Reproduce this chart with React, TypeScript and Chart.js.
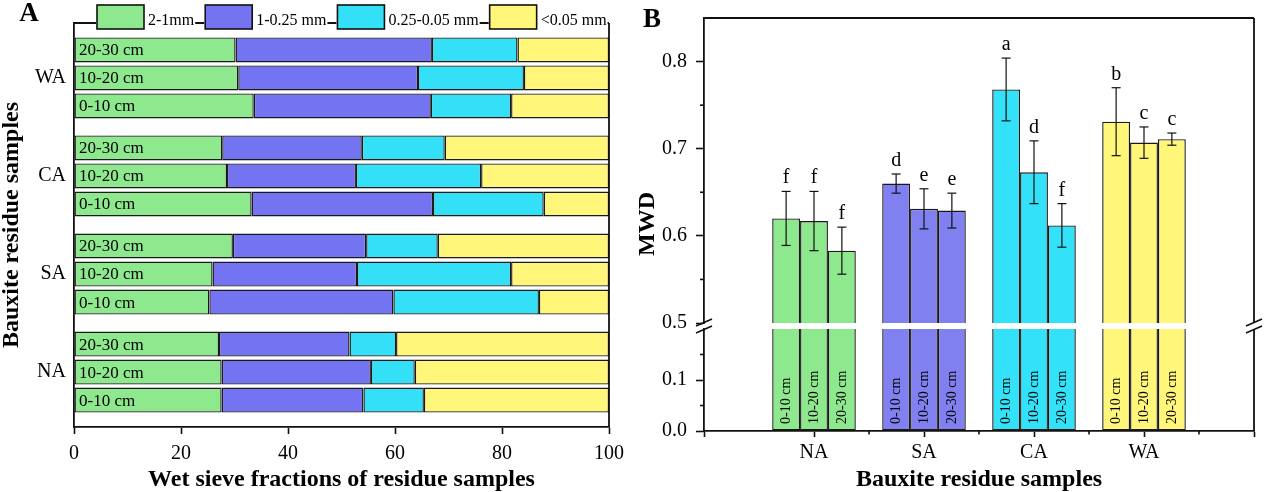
import React, { useEffect, useRef } from 'react';
import { Chart, registerables } from 'chart.js';

Chart.register(...registerables);

const FONT = "'Liberation Serif', 'Times New Roman', serif";
Chart.defaults.font.family = FONT;
Chart.defaults.color = '#000';

// ---------- Panel A data ----------
const GROUPS_A = ['WA', 'CA', 'SA', 'NA'];
const DEPTHS_A = ['20-30 cm', '10-20 cm', '0-10 cm'];
const FRACTIONS = ['2-1mm', '1-0.25 mm', '0.25-0.05 mm', '<0.05 mm'];
// per group (WA, CA, SA, NA): values for [20-30, 10-20, 0-10] cm
const F_2_1 = [[30.2, 30.7, 33.6], [27.7, 28.6, 33.2], [29.7, 25.9, 25.3], [27.1, 27.6, 27.6]];
const F_1_025 = [[36.7, 33.6, 33.1], [26.1, 24.1, 33.9], [24.9, 27.0, 34.4], [24.4, 27.9, 26.5]];
const F_025_005 = [[16.0, 19.8, 15.0], [15.5, 23.4, 20.7], [13.4, 28.8, 27.2], [8.7, 8.2, 11.3]];
const F_LT_005 = [[17.1, 15.9, 18.3], [30.7, 23.9, 12.2], [32.0, 18.3, 13.1], [39.8, 36.3, 34.6]];
const X_TICKS_A = [0, 20, 40, 60, 80, 100];
const COLORS_A = ['#8EE88E', '#7474F2', '#33E0F8', '#FFF67A'];

// ---------- Panel B data ----------
const CATS_B = ['NA', 'SA', 'CA', 'WA'];
const DEPTHS_B = ['0-10 cm', '10-20 cm', '20-30 cm'];
const MWD_0_10 = [0.620, 0.660, 0.768, 0.731];
const MWD_10_20 = [0.617, 0.631, 0.673, 0.707];
const MWD_20_30 = [0.583, 0.629, 0.612, 0.711];
const ERR_0_10 = [0.031, 0.011, 0.036, 0.039];
const ERR_10_20 = [0.034, 0.023, 0.036, 0.018];
const ERR_20_30 = [0.027, 0.020, 0.025, 0.007];
const LET_0_10 = ['f', 'd', 'a', 'b'];
const LET_10_20 = ['f', 'e', 'd', 'c'];
const LET_20_30 = ['f', 'e', 'f', 'c'];
const UPPER_TICKS = [0.5, 0.6, 0.7, 0.8];
const UPPER_MINOR = [0.55, 0.65, 0.75];
const LOWER_TICKS = [0, 0.1];
const LOWER_MINOR = [0.05, 0.15];
const X_MINOR_B = [1.5, 2.5, 3.5, 4.5];
const COLORS_B = ['#8EE88E', '#8080F0', '#33E2F8', '#FFF67A'];

const FRACS = [F_2_1, F_1_025, F_025_005, F_LT_005];
const MWD = [MWD_0_10, MWD_10_20, MWD_20_30];
const ERR = [ERR_0_10, ERR_10_20, ERR_20_30];
const LETTERS = [LET_0_10, LET_10_20, LET_20_30];
const X_LABELS_B = ['', ...CATS_B, ''];

const INK = '#111';
const FRAME_W = 1.8;

function seg(ctx: CanvasRenderingContext2D, x1: number, y1: number, x2: number, y2: number, w = FRAME_W) {
  ctx.save();
  ctx.beginPath();
  ctx.moveTo(x1, y1);
  ctx.lineTo(x2, y2);
  ctx.lineWidth = w;
  ctx.strokeStyle = INK;
  ctx.stroke();
  ctx.restore();
}

function configA(): any {
  const datasets: any[] = [];
  DEPTHS_A.forEach((depth, di) => {
    FRACTIONS.forEach((fr, fi) => {
      datasets.push({
        label: fr,
        stack: depth,
        data: GROUPS_A.map((_, gi) => ({ x: FRACS[fi][gi][di], y: gi })),
        backgroundColor: COLORS_A[fi],
        borderColor: '#1a1a1a',
        borderWidth: 1.4,
        borderSkipped: false,
        barPercentage: 0.893,
        categoryPercentage: 0.857,
      });
    });
  });
  const plugin = {
    id: 'panelA',
    afterDraw(chart: any) {
      const ctx: CanvasRenderingContext2D = chart.ctx;
      const { left, right, top, bottom } = chart.chartArea;
      seg(ctx, left, top, right, top);
      seg(ctx, right, top, right, bottom);
      // depth labels on bars
      ctx.save();
      ctx.font = `17px ${FONT}`;
      ctx.fillStyle = '#000';
      ctx.textBaseline = 'middle';
      ctx.textAlign = 'left';
      DEPTHS_A.forEach((depth, di) => {
        const meta = chart.getDatasetMeta(di * FRACTIONS.length);
        meta.data.forEach((el: any) => {
          ctx.fillText(depth, left + 5, el.y + 1);
        });
      });
      ctx.restore();
      // legend sitting on the top frame line
      ctx.save();
      ctx.font = `16px ${FONT}`;
      let x = left + 23;
      FRACTIONS.forEach((label, i) => {
        const tw = ctx.measureText(label).width;
        ctx.fillStyle = '#fff';
        ctx.fillRect(x - 1, top - 4, 47 + 4 + tw + 2, 8);
        ctx.fillStyle = COLORS_A[i];
        ctx.fillRect(x, top - 18, 47, 24);
        ctx.lineWidth = 1.6;
        ctx.strokeStyle = INK;
        ctx.strokeRect(x, top - 18, 47, 24);
        ctx.fillStyle = '#000';
        ctx.textBaseline = 'alphabetic';
        ctx.textAlign = 'left';
        ctx.fillText(label, x + 47 + 4, top + 2);
        x += 47 + 4 + tw + 11;
      });
      ctx.restore();
      // panel letter
      ctx.save();
      ctx.font = `bold 27px ${FONT}`;
      ctx.fillStyle = '#000';
      ctx.textAlign = 'center';
      ctx.textBaseline = 'middle';
      ctx.fillText('A', 29, 14);
      ctx.restore();
    },
  };
  return {
    type: 'bar',
    data: { datasets },
    plugins: [plugin],
    options: {
      animation: false,
      responsive: false,
      indexAxis: 'y',
      layout: { padding: { left: 0, right: 21, top: 23, bottom: 0 } },
      plugins: { legend: { display: false }, tooltip: { enabled: false } },
      scales: {
        x: {
          type: 'linear',
          min: 0,
          max: 100,
          stacked: true,
          afterBuildTicks: (s: any) => { s.ticks = X_TICKS_A.map((v) => ({ value: v })); },
          ticks: { font: { size: 20 }, color: '#000', padding: 8, maxRotation: 0 },
          grid: { drawOnChartArea: false, tickLength: 7, tickWidth: 1.6, tickColor: INK },
          border: { display: true, color: INK, width: FRAME_W },
          title: {
            display: true,
            text: 'Wet sieve fractions of residue samples',
            font: { size: 24, weight: 'bold', lineHeight: 1 },
            color: '#000',
            padding: { top: 3, bottom: 0 },
          },
          afterFit: (s: any) => { s.height = 65; s.paddingLeft = 0; s.paddingRight = 0; },
        },
        y: {
          type: 'linear',
          reverse: true,
          min: -0.56,
          max: 3.56,
          offset: false,
          afterBuildTicks: (s: any) => { s.ticks = GROUPS_A.map((_, i) => ({ value: i })); },
          ticks: { callback: (v: any) => GROUPS_A[v] ?? '', font: { size: 20 }, color: '#000', padding: 8 },
          grid: { display: true, offset: false, drawOnChartArea: false, drawTicks: false },
          border: { display: true, color: INK, width: FRAME_W },
          title: {
            display: true,
            text: 'Bauxite residue samples',
            font: { size: 24, weight: 'bold', lineHeight: 1 },
            color: '#000',
            padding: { top: 0, bottom: 0 },
          },
          afterFit: (s: any) => { s.width = 74; s.paddingTop = 0; s.paddingBottom = 0; },
        },
      },
    },
  };
}

function datasetsB(): any[] {
  return DEPTHS_B.map((depth, di) => ({
    label: depth,
    data: [null, ...MWD[di], null],
    backgroundColor: ['#fff', ...COLORS_B, '#fff'],
    borderColor: '#1a1a1a',
    borderWidth: 1.4,
    borderSkipped: false,
    barPercentage: 1,
    categoryPercentage: 0.76,
    clip: 0,
  }));
}

function yAxisB(min: number, max: number, major: number[]): any {
  return {
    type: 'linear',
    min,
    max,
    afterBuildTicks: (s: any) => { s.ticks = major.map((v) => ({ value: v })); },
    ticks: { callback: (v: any) => Number(v).toFixed(1), font: { size: 20 }, color: '#000', padding: 9 },
    grid: { drawOnChartArea: false, tickLength: 8, tickWidth: 1.6, tickColor: INK },
    border: { display: true, color: INK, width: FRAME_W },
    afterFit: (s: any) => { s.width = 74; s.paddingTop = 0; s.paddingBottom = 0; },
  };
}

function configBUpper(): any {
  const plugin = {
    id: 'panelBUpper',
    afterDraw(chart: any) {
      const ctx: CanvasRenderingContext2D = chart.ctx;
      const { left, right, top, bottom } = chart.chartArea;
      const ys = chart.scales.y;
      seg(ctx, left, top, right, top);
      seg(ctx, right, top, right, bottom);
      UPPER_MINOR.forEach((v) => {
        const y = ys.getPixelForValue(v);
        seg(ctx, left - 4, y, left, y, 1.6);
      });
      // error bars and letters
      ctx.save();
      ctx.font = `20px ${FONT}`;
      ctx.fillStyle = '#000';
      ctx.textAlign = 'center';
      ctx.textBaseline = 'alphabetic';
      DEPTHS_B.forEach((_, di) => {
        const meta = chart.getDatasetMeta(di);
        meta.data.forEach((el: any, idx: number) => {
          const gi = idx - 1;
          if (gi < 0 || gi >= CATS_B.length) return;
          const v = MWD[di][gi];
          const e = ERR[di][gi];
          const yT = ys.getPixelForValue(v + e);
          const yB = ys.getPixelForValue(v - e);
          seg(ctx, el.x, yT, el.x, yB, 1.2);
          seg(ctx, el.x - 4.5, yT, el.x + 4.5, yT, 1.2);
          seg(ctx, el.x - 4.5, yB, el.x + 4.5, yB, 1.2);
          ctx.fillText(LETTERS[di][gi], el.x, yT - 8);
        });
      });
      ctx.restore();
      ctx.save();
      ctx.font = `bold 27px ${FONT}`;
      ctx.fillStyle = '#000';
      ctx.textAlign = 'center';
      ctx.textBaseline = 'middle';
      ctx.fillText('B', 22, 20);
      ctx.font = `bold 24px ${FONT}`;
      ctx.translate(18, 224);
      ctx.rotate(-Math.PI / 2);
      ctx.fillText('MWD', 0, 0);
      ctx.restore();
    },
  };
  return {
    type: 'bar',
    data: { labels: X_LABELS_B, datasets: datasetsB() },
    plugins: [plugin],
    options: {
      animation: false,
      responsive: false,
      layout: { padding: { left: 0, right: 12, top: 18, bottom: 17 } },
      plugins: { legend: { display: false }, tooltip: { enabled: false } },
      scales: {
        x: { type: 'category', display: false, offset: false, grid: { offset: false } },
        y: yAxisB(0.5, 0.85, UPPER_TICKS),
      },
    },
  };
}

function configBLower(): any {
  const plugin = {
    id: 'panelBLower',
    afterDraw(chart: any) {
      const ctx: CanvasRenderingContext2D = chart.ctx;
      const { left, right, top, bottom } = chart.chartArea;
      const ys = chart.scales.y;
      const xs = chart.scales.x;
      seg(ctx, right, top, right, bottom);
      LOWER_MINOR.forEach((v) => {
        const y = ys.getPixelForValue(v);
        seg(ctx, left - 4, y, left, y, 1.6);
      });
      X_MINOR_B.forEach((v) => {
        const x = xs.getPixelForValue(v);
        seg(ctx, x, bottom, x, bottom + 3.5, 1.6);
      });
      // axis break marks
      const by = top - 3;
      [left, right].forEach((bx) => {
        [-3.5, 3.5].forEach((dy) => {
          seg(ctx, bx - 8, by + dy + 3.5, bx + 8, by + dy - 3.5, 1.6);
        });
      });
      // depth labels inside bars
      ctx.save();
      ctx.font = `14px ${FONT}`;
      ctx.fillStyle = '#000';
      ctx.textAlign = 'left';
      ctx.textBaseline = 'middle';
      DEPTHS_B.forEach((depth, di) => {
        const meta = chart.getDatasetMeta(di);
        meta.data.forEach((el: any, idx: number) => {
          if (idx < 1 || idx > CATS_B.length) return;
          ctx.save();
          ctx.translate(el.x, bottom - 7);
          ctx.rotate(-Math.PI / 2);
          ctx.fillText(depth, 0, 0);
          ctx.restore();
        });
      });
      ctx.restore();
    },
  };
  return {
    type: 'bar',
    data: { labels: X_LABELS_B, datasets: datasetsB() },
    plugins: [plugin],
    options: {
      animation: false,
      responsive: false,
      layout: { padding: { left: 0, right: 12, top: 29, bottom: 0 } },
      plugins: { legend: { display: false }, tooltip: { enabled: false } },
      scales: {
        x: {
          type: 'category',
          offset: false,
          ticks: { autoSkip: false, maxRotation: 0, font: { size: 20 }, color: '#000', padding: 4 },
          grid: { offset: false, drawOnChartArea: false, tickLength: 6, tickWidth: 1.6, tickColor: INK },
          border: { display: true, color: INK, width: FRAME_W },
          title: {
            display: true,
            text: 'Bauxite residue samples',
            font: { size: 24, weight: 'bold', lineHeight: 1 },
            color: '#000',
            padding: { top: 3, bottom: 0 },
          },
          afterFit: (s: any) => { s.height = 61; s.paddingLeft = 0; s.paddingRight = 0; },
        },
        y: yAxisB(0, 0.2, LOWER_TICKS),
      },
    },
  };
}

export default function App() {
  const aRef = useRef<HTMLCanvasElement>(null);
  const bTopRef = useRef<HTMLCanvasElement>(null);
  const bBotRef = useRef<HTMLCanvasElement>(null);

  useEffect(() => {
    const charts = [
      new Chart(aRef.current as HTMLCanvasElement, configA()),
      new Chart(bTopRef.current as HTMLCanvasElement, configBUpper()),
      new Chart(bBotRef.current as HTMLCanvasElement, configBLower()),
    ];
    return () => charts.forEach((c) => c.destroy());
  }, []);

  return (
    <div style={{ position: 'fixed', left: 0, top: 0, width: 1266, height: 492, background: '#fff', overflow: 'hidden' }}>
      <canvas ref={aRef} width={630} height={492} style={{ position: 'absolute', left: 0, top: 0, width: 630, height: 492 }} />
      <canvas ref={bTopRef} width={636} height={340} style={{ position: 'absolute', left: 630, top: 0, width: 636, height: 340 }} />
      <canvas ref={bBotRef} width={636} height={192} style={{ position: 'absolute', left: 630, top: 300, width: 636, height: 192 }} />
    </div>
  );
}
